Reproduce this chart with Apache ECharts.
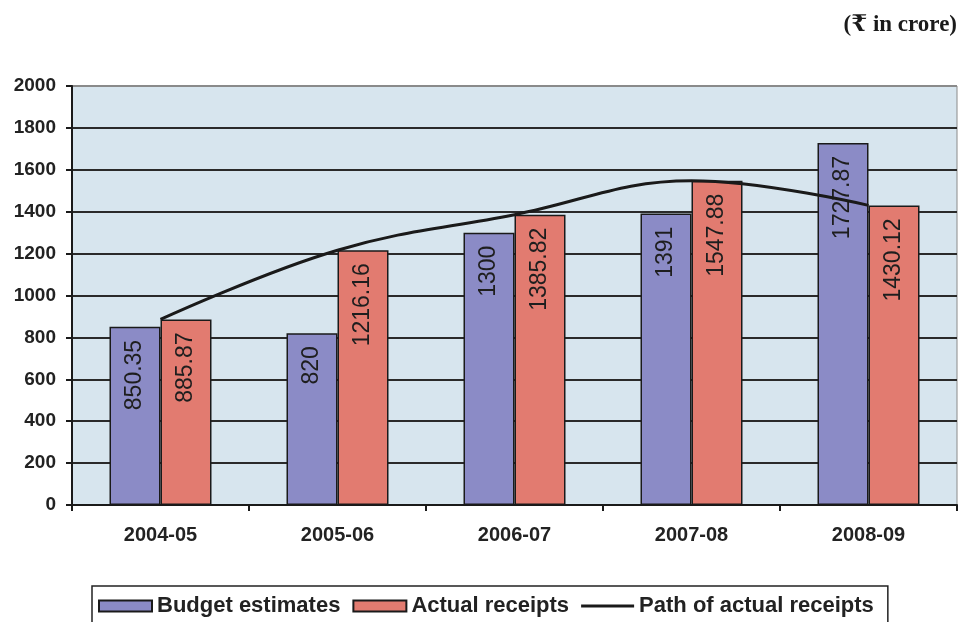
<!DOCTYPE html>
<html>
<head>
<meta charset="utf-8">
<title>Budget estimates and actual receipts</title>
<script src="https://cdn.jsdelivr.net/npm/echarts@6/dist/echarts.min.js"></script>
<style>
  html, body { margin: 0; padding: 0; background: #ffffff; }
  #chart { width: 965px; height: 622px; }
</style>
</head>
<body>
<div id="chart"></div>
<script>
// Years shown on the category axis
const years = ['2004-05', '2005-06', '2006-07', '2007-08', '2008-09'];
// Budget estimates (₹ crore)
const budgetEstimates = [850.35, 820, 1300, 1391, 1727.87];
// Actual receipts (₹ crore)
const actualReceipts = [885.87, 1216.16, 1385.82, 1547.88, 1430.12];
// Value axis range and step
const yMin = 0;
const yMax = 2000;
const yStep = 200;

const FONT = '"Liberation Sans", Arial, sans-serif';
const gridColors = [];
for (let v = yMin; v <= yMax; v += yStep) {
  gridColors.push(v === yMax ? '#8a8a8a' : '#2a2a2a');
}

// Thin horizontal stroke for the line series' legend key (tiny corner
// specks keep the icon box at full item size so the stroke stays thin)
const lineKeyIcon = 'path://M0,0 L0.05,0 L0.05,0.05 Z M0,4 L54,4 L54,7 L0,7 Z M54,11 L53.95,11 L53.95,10.95 Z';

const barLabel = {
  show: true,
  position: 'insideTop',
  rotate: 90,
  align: 'right',
  verticalAlign: 'middle',
  distance: 13,
  fontFamily: FONT,
  fontSize: 23,
  color: '#1e1e1e'
};

const chart = echarts.init(document.getElementById('chart'), null, { renderer: 'canvas' });
chart.setOption({
  animation: false,
  backgroundColor: '#ffffff',
  title: {
    text: '(₹ in crore)',
    right: 3,
    top: 9,
    textStyle: {
      fontFamily: '"Liberation Serif", "DejaVu Serif", serif',
      fontWeight: 'bold',
      fontSize: 23,
      color: '#1a1a1a'
    }
  },
  grid: {
    left: 72,
    right: 8,
    top: 86,
    bottom: 117,
    show: true,
    backgroundColor: '#d7e5ee',
    borderColor: '#8a8a8a',
    borderWidth: 1
  },
  legend: {
    left: 92,
    top: 586,
    padding: [9, 14, 20, 6],
    itemGap: 12,
    itemWidth: 53,
    itemHeight: 11,
    borderColor: '#222',
    borderWidth: 1.5,
    backgroundColor: '#ffffff',
    textStyle: {
      fontFamily: FONT,
      fontWeight: 'bold',
      fontSize: 22,
      color: '#222'
    },
    data: [
      { name: 'Budget estimates', icon: 'rect' },
      { name: 'Actual receipts', icon: 'rect' },
      { name: 'Path of actual receipts', icon: lineKeyIcon, itemStyle: { color: '#1a1a1a' } }
    ]
  },
  xAxis: {
    type: 'category',
    data: years,
    axisLine: { show: true, lineStyle: { color: '#1a1a1a', width: 2 } },
    axisTick: { show: true, length: 6, lineStyle: { color: '#1a1a1a', width: 2 } },
    axisLabel: {
      margin: 20,
      fontFamily: FONT,
      fontWeight: 'bold',
      fontSize: 20,
      color: '#222'
    }
  },
  yAxis: {
    type: 'value',
    min: yMin,
    max: yMax,
    interval: yStep,
    axisLine: { show: true, lineStyle: { color: '#1a1a1a', width: 2 } },
    axisTick: { show: true, length: 6, lineStyle: { color: '#1a1a1a', width: 2 } },
    splitLine: { show: true, lineStyle: { color: gridColors, width: 2 } },
    axisLabel: {
      margin: 16,
      fontFamily: FONT,
      fontWeight: 'bold',
      fontSize: 19,
      color: '#222',
      formatter: function (v) { return String(v); }
    }
  },
  series: [
    {
      name: 'Budget estimates',
      type: 'bar',
      data: budgetEstimates,
      barWidth: 51,
      barGap: '0%',
      itemStyle: { color: '#8b8bc6', borderColor: '#1a1a1a', borderWidth: 1.5 },
      label: barLabel,
      z: 2
    },
    {
      name: 'Actual receipts',
      type: 'bar',
      data: actualReceipts,
      barWidth: 51,
      barGap: '0%',
      itemStyle: { color: '#e27b70', borderColor: '#1a1a1a', borderWidth: 1.5 },
      label: barLabel,
      z: 2
    },
    {
      name: 'Path of actual receipts',
      type: 'line',
      data: actualReceipts,
      smooth: 0.4,
      symbol: 'none',
      lineStyle: { color: '#1a1a1a', width: 3 },
      itemStyle: { color: '#1a1a1a' },
      z: 5
    }
  ]
});
</script>
</body>
</html>
